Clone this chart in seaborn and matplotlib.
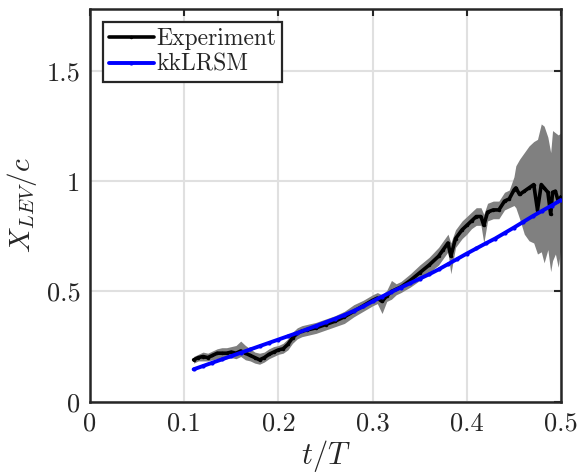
import numpy as np
import pandas as pd
import matplotlib
matplotlib.use('Agg')
import matplotlib.pyplot as plt
import seaborn as sns

# Experiment: LEV position with spread band
exp_t = [0.110, 0.115, 0.120, 0.125, 0.130, 0.135, 0.140, 0.145, 0.150, 0.155,
         0.160, 0.165, 0.170, 0.175, 0.180, 0.185, 0.190, 0.195, 0.200, 0.205,
         0.210, 0.215, 0.220, 0.225, 0.230, 0.240, 0.250, 0.260, 0.270, 0.280,
         0.290, 0.300, 0.305, 0.310, 0.315, 0.320, 0.325, 0.330, 0.340, 0.350,
         0.360, 0.370, 0.375, 0.380, 0.383, 0.388, 0.395, 0.400, 0.405, 0.410,
         0.415, 0.418, 0.422, 0.428, 0.434, 0.440, 0.445, 0.450, 0.452, 0.456,
         0.461, 0.466, 0.471, 0.475, 0.479, 0.482, 0.486, 0.489, 0.491, 0.494,
         0.497, 0.500]
exp_x = [0.19, 0.20, 0.205, 0.20, 0.21, 0.22, 0.22, 0.22, 0.225, 0.22,
         0.23, 0.22, 0.21, 0.20, 0.19, 0.20, 0.215, 0.225, 0.235, 0.24,
         0.26, 0.29, 0.31, 0.32, 0.325, 0.335, 0.35, 0.365, 0.385, 0.41,
         0.435, 0.46, 0.47, 0.455, 0.48, 0.50, 0.51, 0.52, 0.55, 0.585,
         0.62, 0.66, 0.69, 0.72, 0.66, 0.74, 0.78, 0.80, 0.82, 0.84,
         0.84, 0.80, 0.86, 0.87, 0.87, 0.91, 0.92, 0.96, 0.97, 0.94,
         0.955, 0.97, 0.985, 0.87, 0.985, 0.97, 0.95, 0.85, 0.95, 0.955,
         0.91, 0.93]
exp_lo = [0.175, 0.185, 0.185, 0.185, 0.19, 0.195, 0.195, 0.195, 0.20, 0.195,
          0.205, 0.19, 0.185, 0.175, 0.17, 0.18, 0.195, 0.205, 0.215, 0.22,
          0.235, 0.265, 0.285, 0.295, 0.30, 0.31, 0.325, 0.34, 0.355, 0.385,
          0.41, 0.435, 0.445, 0.40, 0.455, 0.465, 0.485, 0.495, 0.52, 0.55,
          0.585, 0.62, 0.65, 0.68, 0.58, 0.70, 0.74, 0.76, 0.785, 0.80,
          0.80, 0.72, 0.82, 0.83, 0.83, 0.87, 0.88, 0.89, 0.88, 0.83,
          0.76, 0.73, 0.72, 0.67, 0.68, 0.63, 0.69, 0.59, 0.64, 0.67,
          0.61, 0.70]
exp_hi = [0.205, 0.215, 0.225, 0.22, 0.23, 0.24, 0.245, 0.245, 0.25, 0.255,
          0.275, 0.255, 0.24, 0.225, 0.22, 0.225, 0.24, 0.25, 0.255, 0.265,
          0.285, 0.315, 0.335, 0.345, 0.35, 0.36, 0.375, 0.39, 0.41, 0.44,
          0.46, 0.485, 0.495, 0.485, 0.505, 0.55, 0.535, 0.545, 0.58, 0.62,
          0.655, 0.70, 0.73, 0.76, 0.72, 0.78, 0.82, 0.84, 0.86, 0.88,
          0.88, 0.85, 0.90, 0.91, 0.91, 0.95, 0.96, 1.02, 1.07, 1.10,
          1.13, 1.16, 1.18, 1.19, 1.26, 1.25, 1.20, 1.13, 1.23, 1.22,
          1.21, 1.22]

# kkLRSM prediction
sim_t = [0.11, 0.12, 0.13, 0.14, 0.15, 0.16, 0.17, 0.18, 0.19, 0.20,
         0.21, 0.22, 0.23, 0.24, 0.25, 0.26, 0.27, 0.28, 0.29, 0.30,
         0.31, 0.32, 0.33, 0.34, 0.35, 0.36, 0.37, 0.38, 0.39, 0.40,
         0.41, 0.42, 0.43, 0.44, 0.45, 0.46, 0.47, 0.48, 0.49, 0.50]
sim_x = [0.147, 0.162, 0.177, 0.192, 0.207, 0.222, 0.237, 0.252, 0.267, 0.282,
         0.297, 0.312, 0.328, 0.344, 0.360, 0.376, 0.393, 0.412, 0.432, 0.455,
         0.477, 0.498, 0.518, 0.538, 0.558, 0.578, 0.600, 0.624, 0.648, 0.672,
         0.695, 0.718, 0.740, 0.765, 0.790, 0.816, 0.842, 0.866, 0.890, 0.915]

exp_df = pd.DataFrame({'t': exp_t, 'x': exp_x})
sim_df = pd.DataFrame({'t': sim_t, 'x': sim_x})

sns.set_style('white')
plt.rcParams['font.family'] = ['cmr10', 'DejaVu Serif']
plt.rcParams['mathtext.fontset'] = 'cm'
plt.rcParams['axes.formatter.use_mathtext'] = True

fig = plt.figure(figsize=(5.79, 4.75), dpi=100)
ax = fig.add_axes([0.1554, 0.1543, 0.8136, 0.8261])

ax.fill_between(exp_t, exp_lo, exp_hi, color='#808080', lw=0, zorder=2)
sns.lineplot(data=exp_df, x='t', y='x', ax=ax, color='black', lw=2.6,
             marker='.', markersize=5, markeredgewidth=0, estimator=None,
             label='Experiment', zorder=3)
sns.lineplot(data=sim_df, x='t', y='x', ax=ax, color='blue', lw=2.8,
             marker='.', markersize=6, markeredgewidth=0, estimator=None,
             label='kkLRSM', zorder=4)

ax.set_xlim(0, 0.5)
ax.set_ylim(0, 1.78)
ax.set_xticks([0, 0.1, 0.2, 0.3, 0.4, 0.5])
ax.set_yticks([0, 0.5, 1, 1.5])
ax.set_xticklabels(['0', '0.1', '0.2', '0.3', '0.4', '0.5'])
ax.set_yticklabels(['0', '0.5', '1', '1.5'])
ax.grid(True, color='#e0e0e0', lw=1.5, zorder=0)
ax.set_axisbelow(True)
ax.tick_params(direction='in', length=5, width=1.5, color='#262626',
               labelsize=19, top=True, right=True, pad=7)
for s in ax.spines.values():
    s.set_color('#262626')
    s.set_linewidth(1.8)

ax.set_xlabel('$t/T$', fontsize=22, labelpad=2)
ax.set_ylabel('$X_{LEV}/c$', fontsize=21, labelpad=5)

leg = ax.legend(loc='upper left', fontsize=17, frameon=True, fancybox=False,
                edgecolor='#262626', framealpha=1, borderaxespad=0.55,
                handlelength=1.9, handletextpad=0.1, borderpad=0.25,
                labelspacing=0.15)
leg.get_frame().set_linewidth(1.6)

fig.savefig('out.png', dpi=100)
